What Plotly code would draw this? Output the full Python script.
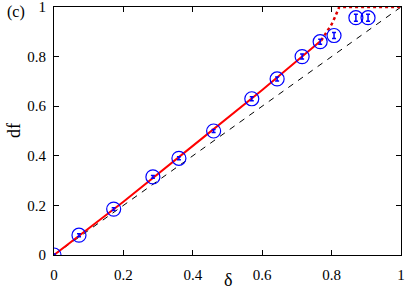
import plotly.graph_objects as go

delta_pts = [0.0, 0.072, 0.172, 0.285, 0.36, 0.46, 0.57, 0.643, 0.715, 0.767, 0.807, 0.87, 0.905]
df_pts = [0.0, 0.08, 0.185, 0.315, 0.39, 0.50, 0.63, 0.71, 0.80, 0.86, 0.885, 0.957, 0.957]
df_err = [0.004, 0.006, 0.006, 0.006, 0.006, 0.006, 0.008, 0.008, 0.01, 0.01, 0.012, 0.014, 0.014]

fit_x = [0.0, 0.2, 0.4, 0.6, 0.77]
fit_y = [0.0, 0.215, 0.44, 0.665, 0.865]
dot_x = [0.77, 0.785, 0.80, 0.81, 0.818, 0.822, 1.0]
dot_y = [0.865, 0.895, 0.93, 0.96, 0.99, 1.0, 1.0]

diag = [0, 1]
ticks = [0, 0.2, 0.4, 0.6, 0.8, 1]
tick_text = ["0", "0.2", "0.4", "0.6", "0.8", "1"]

SERIF = "Liberation Serif"

fig = go.Figure()
fig.add_trace(go.Scatter(x=diag, y=diag, mode="lines",
                         line=dict(color="black", width=1, dash="6px,6px"), showlegend=False))
fig.add_trace(go.Scatter(x=fit_x, y=fit_y, mode="lines",
                         line=dict(color="#ff0000", width=2), showlegend=False))
fig.add_trace(go.Scatter(x=dot_x, y=dot_y, mode="lines",
                         line=dict(color="#e00000", width=2.5, dash="dot"), showlegend=False))
fig.add_trace(go.Scatter(x=delta_pts, y=df_pts, mode="markers",
                         marker=dict(symbol="circle-open", size=14, color="#0000ff", line=dict(width=1.2)),
                         error_y=dict(type="data", array=df_err, color="#0000ff", thickness=1.5, width=2),
                         showlegend=False))

axis_common = dict(range=[0, 1], tickvals=ticks, ticktext=tick_text, ticks="inside",
                   ticklen=5, tickcolor="black", showline=True, linecolor="black",
                   linewidth=1, mirror="ticks", showgrid=False, zeroline=False,
                   automargin=False, ticklabeloverflow="allow",
                   tickfont=dict(family=SERIF, size=15, color="black"))

fig.update_xaxes(**axis_common, ticklabelstandoff=6)
fig.update_yaxes(**axis_common, ticklabelstandoff=4)

fig.add_annotation(text="(c)", x=-0.14, y=1.0, xref="paper", yref="paper", xanchor="left",
                   yanchor="middle", yshift=-5, showarrow=False,
                   font=dict(family=SERIF, size=16, color="black"))
fig.add_annotation(text="δ", x=0.5, y=0, xref="paper", yref="paper", yanchor="top",
                   yshift=-13, showarrow=False,
                   font=dict(family=SERIF, size=18, color="black"))
fig.add_annotation(text="df", x=0, y=0.5, xref="paper", yref="paper", xanchor="right",
                   xshift=-28, textangle=-90, showarrow=False,
                   font=dict(family=SERIF, size=18, color="black"))

fig.update_layout(width=415, height=293, margin=dict(l=54, r=14, t=7, b=38),
                  plot_bgcolor="white", paper_bgcolor="white",
                  font=dict(family=SERIF))

fig.write_html("out.html", config={"displayModeBar": False},
               post_script="document.body.style.margin='0';")
